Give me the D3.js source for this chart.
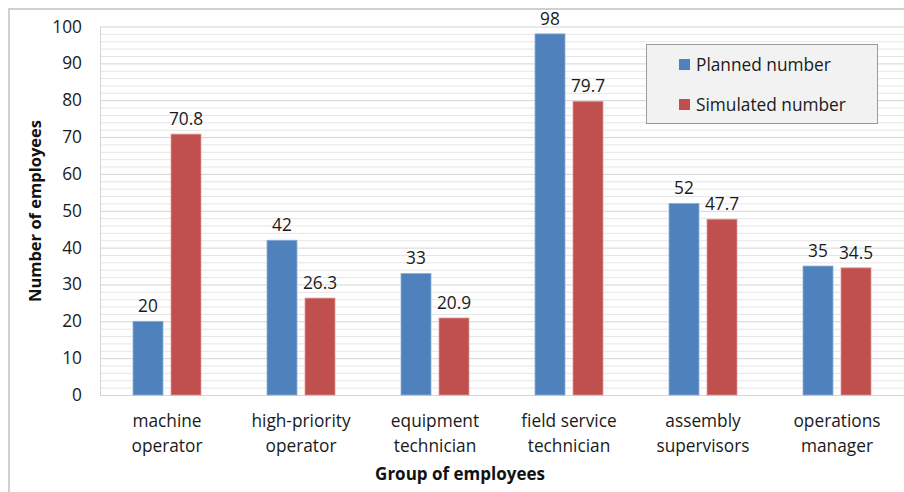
<!DOCTYPE html>
<html>
<head>
<meta charset="utf-8">
<script src="https://cdn.jsdelivr.net/npm/d3@7"></script>
<style>
  html, body { margin: 0; padding: 0; background: #fff; }
  svg { display: block; font-family: "Open Sans", "Noto Sans", sans-serif; }
</style>
</head>
<body>
<svg id="chart" width="904" height="492"></svg>
<script>
// Employee groups and the two series compared for each
const categories = [
  ["machine", "operator"],
  ["high-priority", "operator"],
  ["equipment", "technician"],
  ["field service", "technician"],
  ["assembly", "supervisors"],
  ["operations", "manager"]
];
const seriesNames = ["Planned number", "Simulated number"];
const planned = [20, 42, 33, 98, 52, 35];
const simulated = [70.8, 26.3, 20.9, 79.7, 47.7, 34.5];
const yTicks = [0, 10, 20, 30, 40, 50, 60, 70, 80, 90, 100];
const colors = ["#4f81bd", "#c0504d"];

const svg = d3.select("#chart");
const W = 904, H = 492;
const margin = { left: 100, right: 0, top: 26.5, bottom: 97 };
const plotW = W - margin.left - margin.right;
const plotH = H - margin.top - margin.bottom;
const fs = 17.3;

// Outer chart frame
svg.append("path")
  .attr("d", `M9,${H} V9 H${W}`)
  .attr("fill", "none")
  .attr("stroke", "#d0d0d0")
  .attr("stroke-width", 2);

const g = svg.append("g").attr("transform", `translate(${margin.left},${margin.top})`);

const x0 = d3.scaleBand().domain(d3.range(categories.length)).range([0, plotW]).paddingInner(0).paddingOuter(0);
const y = d3.scaleLinear().domain([0, 100]).range([plotH, 0]);

// Minor gridlines every 2 units, major every 10
const minor = d3.range(0, 101, 2).filter(v => v % 10 !== 0);
g.selectAll("line.minor").data(minor).join("line")
  .attr("class", "minor")
  .attr("x1", 0).attr("x2", plotW)
  .attr("y1", d => y(d) + 0.5).attr("y2", d => y(d) + 0.5)
  .attr("stroke", "#e6e6e6").attr("stroke-width", 1);
g.selectAll("line.major").data(yTicks).join("line")
  .attr("class", "major")
  .attr("x1", 0).attr("x2", plotW)
  .attr("y1", d => y(d) + 0.5).attr("y2", d => y(d) + 0.5)
  .attr("stroke", "#d4d4d4").attr("stroke-width", 1);

// Left plot edge
g.append("line")
  .attr("x1", 0.5).attr("x2", 0.5).attr("y1", 0).attr("y2", plotH + 1)
  .attr("stroke", "#d4d4d4");

// Y axis labels
const yAxis = d3.axisLeft(y).tickValues(yTicks).tickSize(0).tickPadding(18);
const ya = g.append("g").call(yAxis);
ya.select(".domain").remove();
ya.selectAll("text")
  .attr("font-family", "'Open Sans', sans-serif")
  .attr("font-size", fs)
  .attr("fill", "#1a1a1a");

// Bars
const barW = 30, gap = 8;
const bars = g.append("g");
categories.forEach((c, i) => {
  const cx = x0(i) + x0.bandwidth() / 2;
  [planned[i], simulated[i]].forEach((v, s) => {
    const bx = s === 0 ? cx - gap / 2 - barW : cx + gap / 2;
    bars.append("rect")
      .attr("x", bx).attr("y", y(v))
      .attr("width", barW).attr("height", y(0) - y(v))
      .attr("fill", colors[s])
      .attr("stroke", s === 0 ? "#8fb0d8" : "#e09a98")
      .attr("stroke-width", 0.8);
    bars.append("text")
      .attr("x", bx + barW / 2).attr("y", y(v) - 9)
      .attr("text-anchor", "middle")
      .attr("font-size", fs)
      .attr("fill", "#1a1a1a")
      .text(v);
  });
});

// Category labels (two lines each)
categories.forEach((c, i) => {
  const cx = x0(i) + x0.bandwidth() / 2;
  const t = g.append("text")
    .attr("x", cx).attr("y", plotH + 32)
    .attr("text-anchor", "middle")
    .attr("font-size", fs)
    .attr("fill", "#1a1a1a");
  c.forEach((line, k) => {
    t.append("tspan").attr("x", cx).attr("dy", k === 0 ? 0 : 25).text(line);
  });
});

// Axis titles
svg.append("text")
  .attr("x", 460).attr("y", 480)
  .attr("text-anchor", "middle")
  .attr("font-size", 17)
  .attr("font-weight", "bold")
  .attr("fill", "#111")
  .text("Group of employees");
svg.append("text")
  .attr("transform", "translate(41,211) rotate(-90)")
  .attr("text-anchor", "middle")
  .attr("font-size", 16.5)
  .attr("font-weight", "bold")
  .attr("fill", "#111")
  .text("Number of employees");

// Legend
const lg = svg.append("g").attr("transform", "translate(646,44)");
lg.append("rect")
  .attr("x", 0.5).attr("y", 0.5).attr("width", 231).attr("height", 79)
  .attr("fill", "#f2f2f2").attr("stroke", "#9a9a9a");
seriesNames.forEach((n, k) => {
  lg.append("rect")
    .attr("x", 33).attr("y", 15 + k * 40).attr("width", 11).attr("height", 11)
    .attr("fill", colors[k]);
  lg.append("text")
    .attr("x", 50).attr("y", 26.5 + k * 40)
    .attr("font-size", fs)
    .attr("fill", "#1a1a1a")
    .text(n);
});
</script>
</body>
</html>
